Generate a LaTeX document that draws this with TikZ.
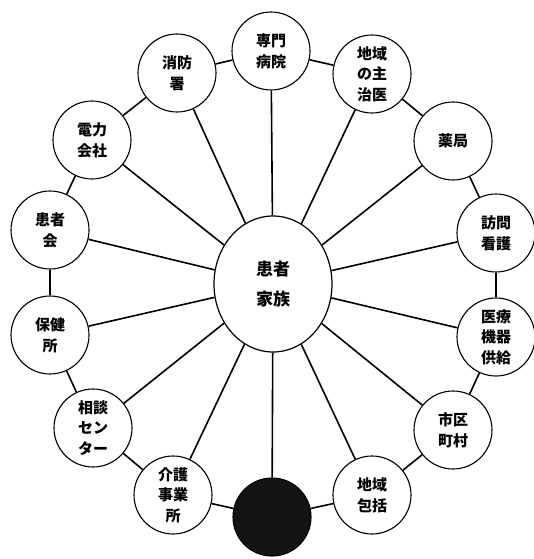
\documentclass[tikz,border=0pt]{standalone}
\usepackage{fontspec}
\newfontfamily\jp{Noto Sans CJK JP}
\usetikzlibrary{shapes.geometric}
\tikzset{
  outer/.style={circle,draw=black,line width=1.1pt,minimum size=78pt,inner sep=0pt,align=center,
    font={\jp\bfseries\fontsize{15}{21}\selectfont}},
  outerthree/.style={outer,font={\jp\bfseries\fontsize{15}{20.5}\selectfont}},
  hub/.style={ellipse,draw=black,line width=1.2pt,minimum width=118pt,minimum height=136pt,inner sep=0pt,align=center,
    font={\jp\bfseries\fontsize{17}{30}\selectfont}},
  spoke/.style={line width=1.6pt},
  ring/.style={line width=1.6pt}
}
\begin{document}
\begin{tikzpicture}[x=1pt,y=-1pt]
\useasboundingbox (0,0) rectangle (533,559);
\node[hub] (c) at (273,284) {患者\\家族};
\node[outer] (A) at (271,51) {専門\\病院};
\node[outerthree] (B) at (372,74) {地域\\の主\\治医};
\node[outer] (C) at (453,141) {薬局};
\node[outer] (D) at (496,233) {訪問\\看護};
\node[outerthree] (E) at (496,337) {医療\\機器\\供給};
\node[outer] (F) at (453,430) {市区\\町村};
\node[outer] (G) at (372,495) {地域\\包括};
\node[outer,fill=black!92] (H) at (272,517) {};
\node[outerthree] (I) at (173,495) {介護\\事業\\所};
\node[outerthree] (J) at (93,428) {相談\\セン\\ター};
\node[outer] (K) at (50,335) {保健\\所};
\node[outer] (L) at (50,230) {患者\\会};
\node[outer] (M) at (92,140) {電力\\会社};
\node[outer] (N) at (177,73) {消防\\署};
\foreach \n in {A,B,C,D,E,F,G,H,I,J,K,L,M,N} \draw[spoke] (c) -- (\n);
\draw[ring] (A) -- (B);
\draw[ring] (B) -- (C);
\draw[ring] (C) -- (D);
\draw[ring] (D) -- (E);
\draw[ring] (E) -- (F);
\draw[ring] (F) -- (G);
\draw[ring] (G) -- (H);
\draw[ring] (H) -- (I);
\draw[ring] (I) -- (J);
\draw[ring] (J) -- (K);
\draw[ring] (K) -- (L);
\draw[ring] (L) -- (M);
\draw[ring] (M) -- (N);
\draw[ring] (N) -- (A);
\end{tikzpicture}
\end{document}
